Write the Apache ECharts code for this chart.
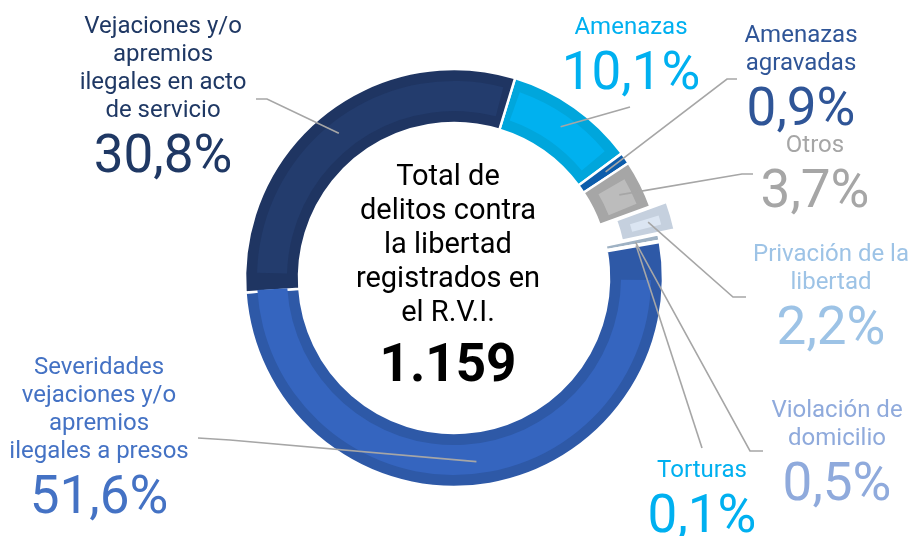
<!DOCTYPE html>
<html>
<head>
<meta charset="utf-8">
<script src="https://cdn.jsdelivr.net/npm/echarts@6/dist/echarts.min.js"></script>
<style>
  html, body { margin: 0; background: #fff; }
  #chart { width: 913px; height: 536px; }
</style>
</head>
<body>
<div id="chart"></div>
<script>
// slices, clockwise from the top
var names = [
  'Amenazas',
  'Amenazas\nagravadas',
  'Otros',
  'Privación de la\nlibertad',
  'Violación de\ndomicilio',
  'Torturas',
  'Severidades\nvejaciones y/o\napremios\nilegales a presos',
  'Vejaciones y/o\napremios\nilegales en acto\nde servicio'
]
var shares = [10.1, 0.9, 3.7, 2.2, 0.5, 0.1, 51.6, 30.8]
var totalCount = '1.159'
var centerLines = ['Total de', 'delitos contra', 'la libertad', 'registrados en', 'el R.V.I.']

var ringColors = ['#00a6dc', '#0d5dab', '#a6a6a6', '#c5d0de', '#9fb2c4', '#2bb5e8', '#2e59a7', '#1f3562']
var bandColors = ['#00b1ef', '#1566b5', '#bcbcbc', '#dbe5f2', '#b3c3d3', '#2bb5e8', '#3565bf', '#233c6d']
var textColors = ['#00b0f0', '#2f5597', '#a6a6a6', '#9dc3e6', '#8faadc', '#00b0f0', '#4472c4', '#1f3864']
var exploded = [false, false, false, true, false, false, false, false]

// top-centre of each label block, then the bend and the end of its leader line
var labelSpots = [
  { x: 631, y: 14, bend: [630, 107], end: [630, 107] },
  { x: 801, y: 22, bend: [727, 79], end: [737, 79] },
  { x: 815, y: 132, bend: [742, 174], end: [753, 174] },
  { x: 831, y: 241, bend: [733, 297], end: [746, 297] },
  { x: 837, y: 397, bend: [750, 451], end: [763, 451] },
  { x: 702, y: 457, bend: [702, 448], end: [702, 448] },
  { x: 99, y: 354, bend: [230, 440], end: [198, 438] },
  { x: 163, y: 13, bend: [267, 99], end: [256, 99] }
]

var FONT = 'Roboto, "Noto Sans", sans-serif'
var center = [454, 278]
var pullOut = 17

function fmt (v) {
  return String(v).replace('.', ',') + '%'
}

function ringData (colors) {
  return shares.map(function (v, i) {
    return {
      name: names[i],
      value: v,
      selected: exploded[i],
      itemStyle: { color: colors[i] }
    }
  })
}

var labelData = shares.map(function (v, i) {
  var lines = names[i].split('\n').map(function (l) { return '{n|' + l + '}' })
  return {
    name: names[i],
    value: v,
    label: {
      formatter: lines.join('\n') + '\n{v|' + fmt(v) + '}',
      rich: {
        n: { fontFamily: FONT, fontSize: 24, lineHeight: 28, color: textColors[i], align: 'center' },
        v: { fontFamily: FONT, fontSize: 53, lineHeight: 68, color: textColors[i], align: 'center' }
      }
    }
  }
})

var option = {
  animation: false,
  backgroundColor: '#fff',
  title: {
    left: 448,
    top: 161,
    textAlign: 'center',
    padding: 0,
    text: centerLines.map(function (l) { return '{a|' + l + '}' }).join('\n') + '\n{b|' + totalCount + '}',
    textStyle: {
      fontWeight: 'normal',
      rich: {
        a: { fontFamily: FONT, fontSize: 29, fontWeight: 'normal', lineHeight: 34, color: '#000' },
        b: { fontFamily: FONT, fontSize: 53, fontWeight: 'bold', lineHeight: 74, color: '#000' }
      }
    }
  },
  series: [
    {
      type: 'pie',
      z: 2,
      center: center,
      radius: [155, 209],
      startAngle: 73,
      silent: true,
      selectedMode: 'multiple',
      selectedOffset: pullOut,
      label: { show: false },
      labelLine: { show: false },
      itemStyle: { borderColor: '#fff', borderWidth: 2.5 },
      data: ringData(ringColors)
    },
    {
      type: 'pie',
      z: 3,
      center: center,
      radius: [167, 197],
      startAngle: 73,
      padAngle: 5,
      silent: true,
      selectedMode: 'multiple',
      selectedOffset: pullOut,
      label: { show: false },
      labelLine: { show: false },
      data: ringData(bandColors)
    },
    {
      type: 'pie',
      z: 10,
      center: center,
      radius: [183, 185],
      startAngle: 73,
      silent: true,
      avoidLabelOverlap: false,
      itemStyle: { color: 'rgba(0,0,0,0)' },
      label: { show: true, position: 'outside' },
      labelLine: { show: true, length: 10, length2: 10, lineStyle: { color: '#a6a6a6', width: 1.6 } },
      labelLayout: function (params) {
        var i = params.dataIndex
        var s = labelSpots[i]
        var p0 = params.labelLinePoints ? params.labelLinePoints[0].slice() : s.bend.slice()
        if (exploded[i]) {
          // follow the pulled-out slice
          var dx = p0[0] - center[0]
          var dy = p0[1] - center[1]
          var len = Math.sqrt(dx * dx + dy * dy) || 1
          p0 = [p0[0] + dx / len * pullOut, p0[1] + dy / len * pullOut]
        }
        return {
          x: s.x,
          y: s.y,
          align: 'center',
          verticalAlign: 'top',
          labelLinePoints: [p0, s.bend, s.end]
        }
      },
      data: labelData
    }
  ]
}

var myChart = echarts.init(document.getElementById('chart'))
myChart.setOption(option)
</script>
</body>
</html>
